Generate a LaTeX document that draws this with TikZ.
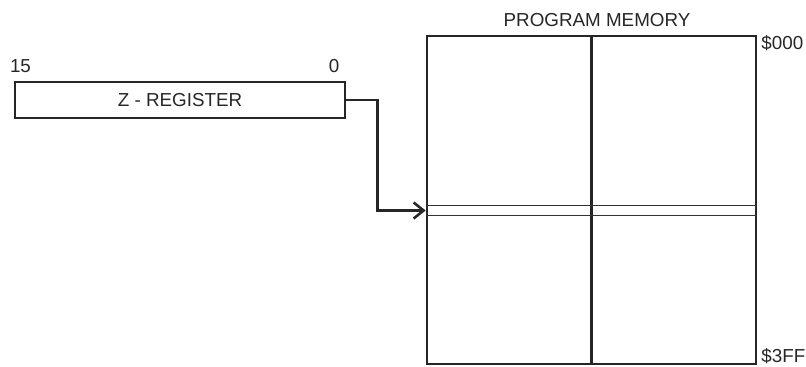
\documentclass[tikz,border=0pt]{standalone}
\usepackage{fontspec}
\setmainfont{Liberation Sans}
\usetikzlibrary{arrows.meta,positioning}

\begin{document}
\begin{tikzpicture}[x=0.5pt,y=-0.5pt,
    every node/.style={font=\fontsize{9.4}{11}\selectfont, text=black!85},
    regbox/.style={draw=black!85, line width=1.3pt, minimum width=165pt, minimum height=18pt, inner sep=0pt},
    membox/.style={draw=black!85, line width=1.3pt, minimum width=164.5pt, minimum height=164pt, inner sep=0pt},
    slotline/.style={draw=black!80, line width=0.5pt}]
     \useasboundingbox (0,0) rectangle (806,366);

     % register
     \node[regbox] (zreg) at (180,100) {Z - REGISTER};
     \node[] (msb) at (20.5,66) {15};
     \node[] (lsb) at (334,66) {0};

     % memory
     \node[membox] (mem) at (591.5,200) {};
     \node[] (title) at (597,20) {PROGRAM MEMORY};
     \node[anchor=west, inner sep=1pt] (addrtop) at (759,43) {\$000};
     \node[anchor=west, inner sep=1pt] (addrbot) at (759,356) {\$3FF};
     \draw[black!85, line width=1.1pt] (mem.north) -- (mem.south);

     \coordinate (slottop) at (mem.west |- 0,205.5);
     \coordinate (slotbot) at (mem.west |- 0,215.5);
     \coordinate (slot) at (mem.west |- 0,210.5);
     \draw[slotline] (slottop) -- (slottop -| mem.east);
     \draw[slotline] (slotbot) -- (slotbot -| mem.east);

     % pointer
     \draw[black!85, line width=1.3pt, -{Straight Barb[length=5pt,width=8pt]}] (zreg.east) -- ++(31,0) |- (slot);
\end{tikzpicture}
\end{document}
